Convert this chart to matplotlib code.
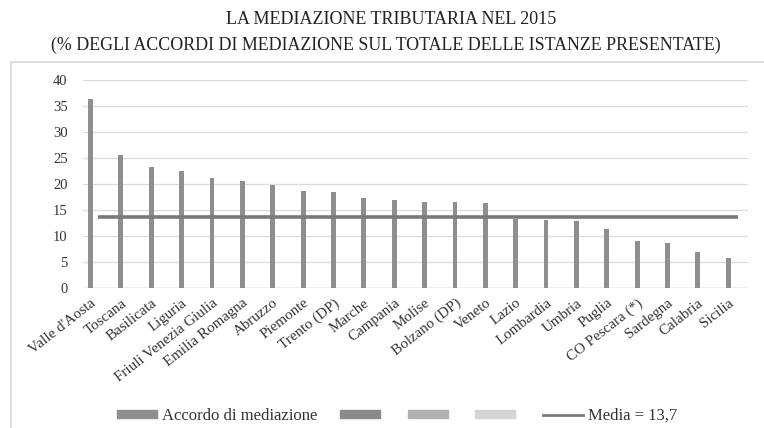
import numpy as np
import matplotlib
matplotlib.use("Agg")
import matplotlib.pyplot as plt
from matplotlib.patches import Patch
from matplotlib.lines import Line2D

regioni = ["Valle d'Aosta", "Toscana", "Basilicata", "Liguria", "Friuli Venezia Giulia",
           "Emilia Romagna", "Abruzzo", "Piemonte", "Trento (DP)", "Marche", "Campania",
           "Molise", "Bolzano (DP)", "Veneto", "Lazio", "Lombardia", "Umbria", "Puglia",
           "CO Pescara (*)", "Sardegna", "Calabria", "Sicilia"]
accordi = [36.3, 25.5, 23.2, 22.6, 21.1, 20.6, 19.9, 18.6, 18.5, 17.4, 17.0,
           16.6, 16.6, 16.3, 13.3, 13.1, 12.9, 11.4, 9.0, 8.6, 6.9, 5.7]
media = 13.7

plt.rcParams["font.family"] = ["Liberation Serif", "DejaVu Serif"]
BAR = "#8e8e8e"; LINE = "#7a7a7a"; TXT = "#333333"

fig = plt.figure(figsize=(7.64, 4.28), dpi=100)
ax = fig.add_axes([0.1086, 0.327, 0.8704, 0.486])

x = np.arange(len(regioni))
ax.bar(x, accordi, width=0.16, color=BAR, zorder=3)
ax.hlines(media, 0.23, len(regioni) - 0.67, color=LINE, lw=2.6, zorder=4)

ax.set_ylim(0, 40)
ax.set_xlim(-0.25, len(regioni) - 0.35)
ax.set_yticks(range(0, 41, 5))
ax.set_xticks(x)
ax.set_xticklabels(regioni, rotation=38, ha="right", rotation_mode="anchor", fontsize=10.8, color=TXT)
ax.tick_params(axis="y", labelsize=10.5, colors=TXT, length=0, pad=11)
ax.tick_params(axis="x", length=0, pad=6)
ax.grid(axis="y", color="#dcdcdc", lw=0.9, zorder=0)
for s in ax.spines.values():
    s.set_visible(False)
ax.axhline(0, color="#d0d0d0", lw=1, zorder=2)

fig.text(0.512, 0.955, "LA MEDIAZIONE TRIBUTARIA NEL 2015", ha="center", va="center",
         fontsize=13, color="#222222")
fig.text(0.505, 0.895, "(% DEGLI ACCORDI DI MEDIAZIONE SUL TOTALE DELLE ISTANZE PRESENTATE)",
         ha="center", va="center", fontsize=12.9, color="#222222")

# frame around chart area
fig.add_artist(Line2D([0.014, 0.014], [0.0, 0.855], transform=fig.transFigure, color="#d8d8d8", lw=1.2))
fig.add_artist(Line2D([0.014, 1.0], [0.855, 0.855], transform=fig.transFigure, color="#d8d8d8", lw=1.2))

handles = [Patch(color=BAR), Patch(color="#8a8a8a"), Patch(color="#b0b0b0"),
           Patch(color="#d4d4d4"), Line2D([], [], color=LINE, lw=2)]
labels = ["Accordo di mediazione", "", "", "", "Media = 13,7"]
fig.legend(handles, labels, loc="center", bbox_to_anchor=(0.52, 0.028), ncol=5, frameon=False,
           fontsize=12, handlelength=2.4, handleheight=0.35, columnspacing=1.35, handletextpad=0.3,
           labelcolor=TXT)

fig.savefig("out.png", dpi=100, facecolor="white")
